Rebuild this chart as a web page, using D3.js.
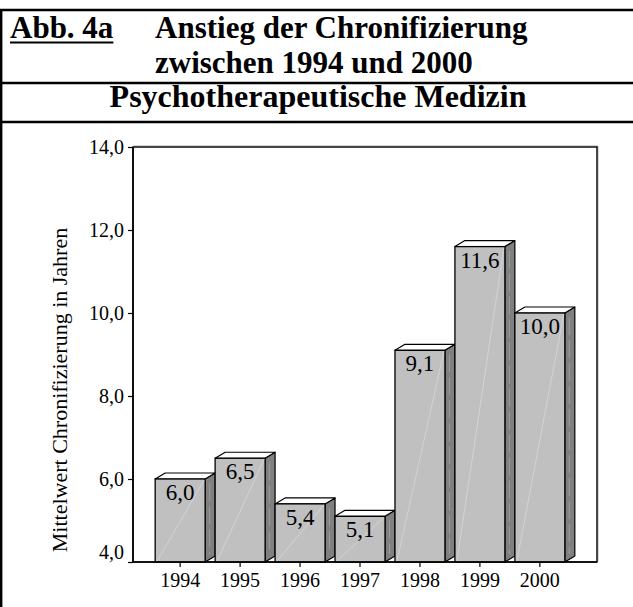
<!DOCTYPE html>
<html>
<head>
<meta charset="utf-8">
<script src="https://cdn.jsdelivr.net/npm/d3@7"></script>
<style>
  html, body { margin: 0; padding: 0; background: #fff; }
  svg { display: block; }
  text { font-family: "Liberation Serif", "Times New Roman", serif; fill: #000; }
</style>
</head>
<body>
<svg id="chart" width="633" height="607"></svg>
<script>
// ---- data ----
const years = ["1994", "1995", "1996", "1997", "1998", "1999", "2000"];
const values = [6.0, 6.5, 5.4, 5.1, 9.1, 11.6, 10.0];
const yTicks = [4, 6, 8, 10, 12, 14];
const figLabel = "Abb. 4a";
const titleLines = ["Anstieg der Chronifizierung", "zwischen 1994 und 2000"];
const subtitle = "Psychotherapeutische Medizin";
const yAxisLabel = "Mittelwert Chronifizierung in Jahren";

// ---- setup ----
const W = 633, H = 607;
const svg = d3.select("#chart");
const loc = d3.formatLocale({ decimal: ",", thousands: ".", grouping: [3], currency: ["", "€"] });
const fmt = loc.format(".1f");

// ---- table frame ----
const frame = svg.append("g");
[10, 83, 122].forEach(y => {
  frame.append("line").attr("x1", 0).attr("x2", W).attr("y1", y).attr("y2", y)
    .attr("stroke", "#000").attr("stroke-width", 2.6);
});
frame.append("line").attr("x1", 1.2).attr("x2", 1.2).attr("y1", 9).attr("y2", H)
  .attr("stroke", "#000").attr("stroke-width", 2.4);

// ---- titles ----
const fig = svg.append("text").attr("x", 10).attr("y", 38)
  .attr("font-size", 31).attr("font-weight", "bold").text(figLabel);
const figW = fig.node().getComputedTextLength();
svg.append("line").attr("x1", 10).attr("x2", 10 + figW).attr("y1", 42.5).attr("y2", 42.5)
  .attr("stroke", "#000").attr("stroke-width", 2);

svg.selectAll("text.title").data(titleLines).join("text")
  .attr("class", "title")
  .attr("x", 155).attr("y", (d, i) => 38 + i * 35)
  .attr("font-size", 31).attr("font-weight", "bold").text(d => d);

svg.append("text").attr("x", 318).attr("y", 107).attr("text-anchor", "middle")
  .attr("font-size", 32).attr("font-weight", "bold").text(subtitle);

// ---- chart ----
const plot = { left: 133, right: 597, top: 147, bottom: 562 };
const y = d3.scaleLinear().domain([4, 14]).range([plot.bottom, plot.top]);
const x = d3.scaleBand().domain(years).range([plot.left, plot.right])
  .paddingInner(0).paddingOuter(0.37);
const step = x.bandwidth();
const frontW = step * 50 / 60;
const depth = step * 10 / 60;
const dy = 6;

// plot frame (with faint shadow)
svg.append("rect").attr("x", plot.left + 1).attr("y", plot.top - 1)
  .attr("width", plot.right - plot.left).attr("height", plot.bottom - plot.top)
  .attr("fill", "none").attr("stroke", "#b0b0b0").attr("stroke-width", 1);
svg.append("rect").attr("x", plot.left).attr("y", plot.top)
  .attr("width", plot.right - plot.left).attr("height", plot.bottom - plot.top)
  .attr("fill", "#fff").attr("stroke", "#000").attr("stroke-width", 1.4);

// bars
const bars = svg.append("g").selectAll("g").data(years.map((yr, i) => ({ yr, v: values[i] })))
  .join("g");

bars.append("path") // side face
  .attr("d", d => {
    const x1 = x(d.yr) + frontW, yt = y(d.v), yb = y(4);
    return `M${x1},${yt} L${x1 + depth},${yt - dy} L${x1 + depth},${yb - dy} L${x1},${yb} Z`;
  })
  .attr("fill", "#808080").attr("stroke", "#000").attr("stroke-width", 1.2)
  .attr("stroke-linejoin", "round");

bars.append("line") // side highlight streak
  .attr("x1", d => x(d.yr) + frontW + depth * 0.45)
  .attr("x2", d => x(d.yr) + frontW + depth * 0.45)
  .attr("y1", d => y(d.v) + 4)
  .attr("y2", d => y(4) - 8)
  .attr("stroke", "#9c9c9c").attr("stroke-width", 1).attr("stroke-dasharray", "18,5");

bars.append("path") // top face
  .attr("d", d => {
    const x0 = x(d.yr), x1 = x0 + frontW, yt = y(d.v);
    return `M${x0},${yt} L${x0 + depth},${yt - dy} L${x1 + depth},${yt - dy} L${x1},${yt} Z`;
  })
  .attr("fill", "#fff").attr("stroke", "#000").attr("stroke-width", 1.2)
  .attr("stroke-linejoin", "round");

bars.append("rect") // front
  .attr("x", d => x(d.yr)).attr("y", d => y(d.v))
  .attr("width", frontW).attr("height", d => y(4) - y(d.v))
  .attr("fill", "#c0c0c0").attr("stroke", "#000").attr("stroke-width", 1.3);

bars.append("line") // faint diagonal highlight
  .attr("x1", d => x(d.yr) + 2).attr("y1", d => y(4) - 1)
  .attr("x2", d => x(d.yr) + frontW - 1).attr("y2", d => y(d.v) + 1)
  .attr("stroke", "#d8d8d8").attr("stroke-width", 0.8);

bars.append("text") // value labels
  .attr("x", d => x(d.yr) + frontW / 2)
  .attr("y", d => y(d.v) + 21)
  .attr("text-anchor", "middle").attr("font-size", 23)
  .text(d => fmt(d.v));

// axis lines
svg.append("line").attr("x1", plot.left).attr("x2", plot.right)
  .attr("y1", plot.bottom).attr("y2", plot.bottom)
  .attr("stroke", "#000").attr("stroke-width", 1.6);
svg.append("line").attr("x1", plot.left).attr("x2", plot.left)
  .attr("y1", plot.top).attr("y2", plot.bottom)
  .attr("stroke", "#000").attr("stroke-width", 1.6);

// y axis
const yAxis = d3.axisLeft(y).tickValues(yTicks).tickSize(5).tickPadding(4)
  .tickFormat(d => fmt(d));
const gy = svg.append("g").attr("transform", `translate(${plot.left},0)`).call(yAxis);
gy.select(".domain").remove();
gy.selectAll(".tick line").attr("stroke", "#000").attr("stroke-width", 1.2);
gy.selectAll(".tick text").attr("font-size", 20).attr("font-family", "Liberation Serif")
  .attr("fill", "#000").attr("dy", (d, i) => i === 0 ? "-0.2em" : "0.32em");

// x axis
const xAxis = d3.axisBottom(x).tickSize(5).tickPadding(6);
const gx = svg.append("g").attr("transform", `translate(0,${plot.bottom})`).call(xAxis);
gx.select(".domain").remove();
gx.selectAll(".tick").attr("transform", d => `translate(${x(d) + frontW / 2},0)`);
gx.selectAll(".tick line").attr("stroke", "#000").attr("stroke-width", 1.2);
gx.selectAll(".tick text").attr("font-size", 20).attr("font-family", "Liberation Serif")
  .attr("fill", "#000");

// y axis label
svg.append("text")
  .attr("transform", `translate(67,390) rotate(-90)`)
  .attr("text-anchor", "middle").attr("font-size", 22)
  .text(yAxisLabel);
</script>
</body>
</html>
